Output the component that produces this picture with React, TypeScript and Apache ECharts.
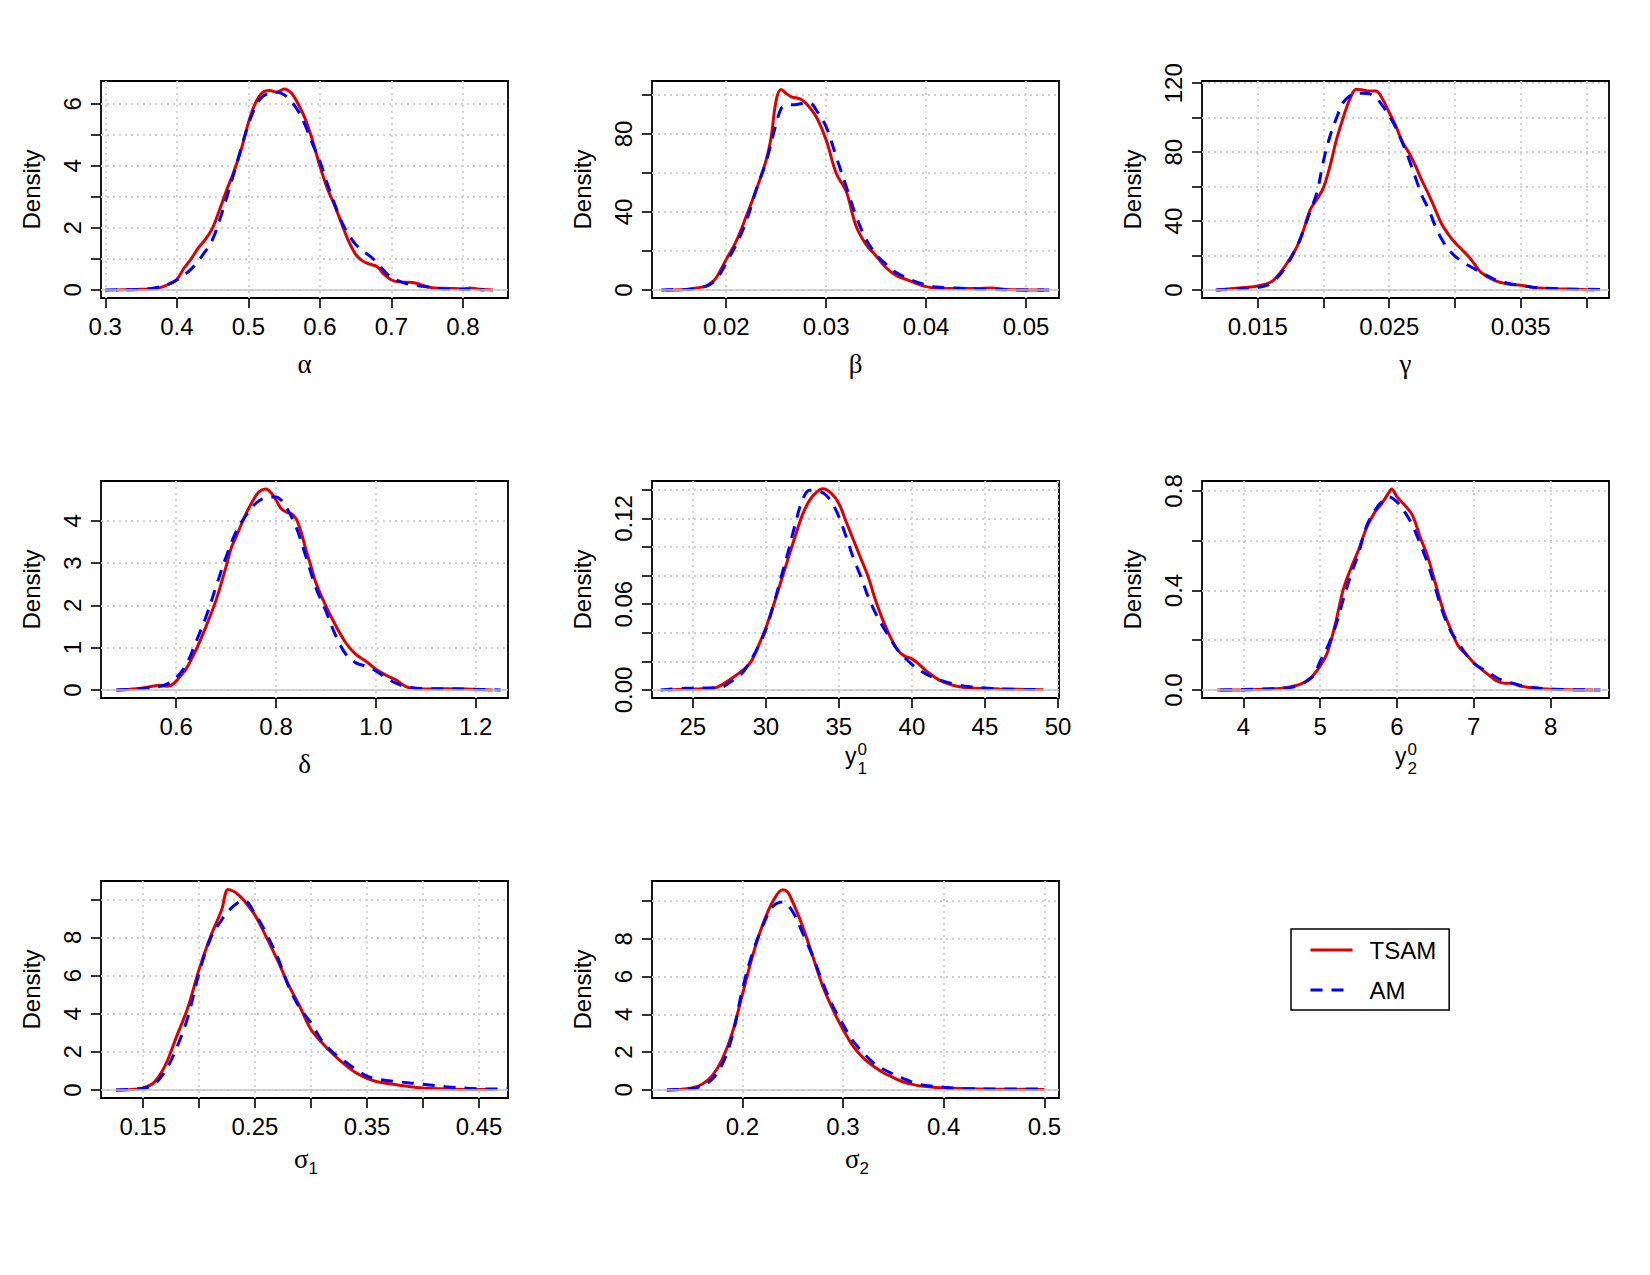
import React, { useEffect, useRef } from "react";
import * as echarts from "echarts";

// ---------- data ----------
const alphaTSAM = [[0.315,0],[0.35,0.02],[0.37,0.05],[0.38,0.1],[0.39,0.2],[0.40,0.34],[0.41,0.7],[0.42,1.0],[0.43,1.36],[0.44,1.63],[0.45,2.0],[0.46,2.6],[0.47,3.24],[0.48,3.83],[0.49,4.53],[0.50,5.39],[0.51,6.03],[0.52,6.37],[0.53,6.43],[0.54,6.38],[0.55,6.48],[0.56,6.35],[0.57,5.98],[0.58,5.49],[0.59,4.8],[0.60,4.0],[0.61,3.3],[0.62,2.76],[0.63,2.17],[0.64,1.58],[0.65,1.15],[0.66,0.93],[0.67,0.83],[0.68,0.75],[0.69,0.5],[0.70,0.32],[0.71,0.26],[0.73,0.24],[0.74,0.18],[0.75,0.11],[0.76,0.06],[0.78,0.05],[0.80,0.04],[0.81,0.06],[0.82,0.03],[0.842,0]];
const alphaAM = [[0.30,0],[0.35,0.02],[0.37,0.07],[0.39,0.2],[0.40,0.32],[0.42,0.67],[0.44,1.25],[0.45,1.63],[0.46,2.27],[0.47,3.0],[0.48,3.78],[0.49,4.58],[0.50,5.33],[0.51,5.92],[0.52,6.24],[0.53,6.35],[0.54,6.38],[0.55,6.3],[0.56,6.08],[0.57,5.76],[0.58,5.28],[0.59,4.69],[0.60,4.15],[0.61,3.45],[0.62,2.81],[0.63,2.22],[0.64,1.79],[0.65,1.47],[0.66,1.26],[0.67,1.09],[0.68,0.88],[0.69,0.61],[0.70,0.4],[0.71,0.29],[0.72,0.21],[0.74,0.13],[0.76,0.06],[0.78,0.02],[0.82,0.01],[0.83,0]];

const betaTSAM = [[0.014,0],[0.016,0.3],[0.017,1],[0.018,2],[0.0185,3.7],[0.019,6.3],[0.020,15.7],[0.021,25],[0.022,37.8],[0.023,51.4],[0.024,66.7],[0.0245,78.6],[0.025,97.4],[0.0255,102.8],[0.026,100.8],[0.0265,99.1],[0.027,98.6],[0.0275,97.7],[0.028,95.7],[0.029,88.9],[0.030,76.9],[0.031,59.9],[0.032,50.6],[0.033,32.7],[0.034,23.3],[0.035,17.4],[0.036,11.4],[0.037,7.5],[0.038,5.4],[0.039,3.4],[0.040,1.7],[0.041,0.9],[0.043,0.7],[0.045,0.7],[0.0465,1.0],[0.048,0.3],[0.050,0],[0.0518,0]];
const betaAM = [[0.0135,0],[0.016,0.3],[0.018,2],[0.019,5.4],[0.020,14],[0.021,23.3],[0.022,35.2],[0.023,51.4],[0.024,65.9],[0.025,85.4],[0.0255,93.1],[0.026,94.8],[0.027,95.1],[0.028,96],[0.0285,95.7],[0.029,92.3],[0.030,83.7],[0.031,68.4],[0.032,53.1],[0.033,37.8],[0.034,25.9],[0.035,18.2],[0.036,13.1],[0.037,8.9],[0.038,6.3],[0.039,4.1],[0.040,2.7],[0.041,1.5],[0.043,1.0],[0.045,0.5],[0.047,0.3],[0.049,0],[0.053,0]];

const gammaTSAM = [[0.0119,0],[0.014,1.4],[0.015,2.3],[0.016,4.6],[0.0165,8.1],[0.017,13],[0.0175,18.8],[0.018,25.5],[0.0185,35.2],[0.019,46.8],[0.0195,52.6],[0.020,59.4],[0.0205,72],[0.021,87.5],[0.0215,100],[0.022,110.7],[0.0225,116.5],[0.023,116.1],[0.0235,115.5],[0.024,115.5],[0.0245,110.7],[0.025,103],[0.0255,95.2],[0.026,85.9],[0.0265,79.7],[0.027,72],[0.0275,63.3],[0.028,55.5],[0.0285,46.8],[0.029,38.1],[0.0295,32.3],[0.030,27.5],[0.0305,23.6],[0.031,19.7],[0.0315,14.9],[0.032,10.1],[0.033,5.6],[0.034,3.5],[0.035,2.7],[0.036,1.4],[0.037,0.8],[0.038,0.6],[0.039,0.4],[0.0406,0]];
const gammaAM = [[0.0118,0],[0.014,0.8],[0.015,1.4],[0.016,3.9],[0.017,12],[0.018,25.5],[0.0185,35],[0.019,45.9],[0.0195,56.5],[0.020,74.9],[0.0205,89.4],[0.021,100],[0.0215,108.8],[0.022,112.6],[0.0225,114],[0.023,114.2],[0.0235,113.8],[0.024,111.7],[0.0245,106.8],[0.025,101],[0.0255,94.3],[0.026,85.5],[0.0265,75.9],[0.027,65.2],[0.0275,54.6],[0.028,46.8],[0.0285,37.2],[0.029,29.4],[0.0295,23.6],[0.030,19.7],[0.0305,16.8],[0.031,14.3],[0.032,10.1],[0.033,6.2],[0.034,3.9],[0.035,2.7],[0.036,1.5],[0.037,1.0],[0.038,0.6],[0.039,0.4],[0.0415,0.3]];

const deltaTSAM = [[0.48,0],[0.52,0.03],[0.55,0.08],[0.565,0.11],[0.58,0.09],[0.59,0.11],[0.60,0.21],[0.61,0.35],[0.62,0.5],[0.64,0.96],[0.66,1.51],[0.68,2.13],[0.70,2.92],[0.71,3.35],[0.72,3.62],[0.74,4.17],[0.76,4.6],[0.77,4.72],[0.78,4.75],[0.79,4.66],[0.80,4.49],[0.81,4.29],[0.82,4.21],[0.83,4.17],[0.84,4.05],[0.85,3.74],[0.86,3.31],[0.87,2.92],[0.88,2.53],[0.90,1.98],[0.92,1.51],[0.94,1.11],[0.96,0.84],[0.98,0.68],[1.00,0.49],[1.02,0.35],[1.04,0.24],[1.06,0.08],[1.08,0.03],[1.10,0.02],[1.14,0.03],[1.18,0.02],[1.234,0]];
const deltaAM = [[0.48,0],[0.55,0.05],[0.58,0.13],[0.60,0.29],[0.62,0.6],[0.64,1.15],[0.66,1.74],[0.68,2.45],[0.70,3.15],[0.72,3.74],[0.74,4.13],[0.76,4.42],[0.78,4.55],[0.80,4.56],[0.81,4.49],[0.82,4.33],[0.84,3.86],[0.86,3.15],[0.88,2.41],[0.90,1.86],[0.92,1.27],[0.94,0.84],[0.96,0.64],[0.98,0.56],[1.00,0.45],[1.02,0.29],[1.04,0.16],[1.06,0.08],[1.10,0.03],[1.14,0.03],[1.18,0.02],[1.25,0]];

const y1TSAM = [[23.3,0],[25,0.0007],[26,0.001],[26.7,0.002],[27.5,0.007],[28.5,0.0144],[29,0.02],[29.5,0.031],[30,0.0434],[30.5,0.0585],[31,0.0747],[31.5,0.091],[32,0.1072],[32.5,0.1223],[33,0.1328],[33.5,0.1386],[33.9,0.1407],[34.5,0.1374],[35,0.1305],[35.5,0.1177],[36,0.1049],[36.5,0.0922],[37,0.0794],[37.5,0.0631],[38,0.0492],[38.5,0.0376],[39,0.0283],[39.5,0.0237],[40,0.0218],[40.5,0.0179],[41,0.0132],[42,0.0063],[43,0.0028],[44,0.0014],[46,0.0007],[49,0.0002]];
const y1AM = [[22.8,0],[24.5,0.0012],[26,0.0014],[27,0.002],[27.5,0.005],[28,0.0086],[28.5,0.0132],[29,0.0214],[29.5,0.0306],[30,0.0422],[30.5,0.0585],[31,0.0771],[31.5,0.0956],[32,0.1154],[32.5,0.1328],[33,0.1397],[33.5,0.1393],[34,0.1374],[34.5,0.1316],[35,0.1212],[35.5,0.1072],[36,0.0922],[36.5,0.0794],[37,0.0655],[37.5,0.0539],[38,0.0446],[38.5,0.0364],[39,0.0283],[40,0.0179],[41,0.0109],[42,0.0067],[43,0.0039],[44,0.0023],[45,0.0014],[46,0.0007],[49,0.0002]];

const y2TSAM = [[3.66,0],[4.0,0],[4.3,0.003],[4.5,0.007],[4.7,0.019],[4.8,0.032],[4.9,0.056],[5.0,0.096],[5.1,0.156],[5.2,0.269],[5.3,0.403],[5.4,0.489],[5.5,0.563],[5.6,0.649],[5.7,0.709],[5.8,0.749],[5.9,0.796],[5.93,0.808],[6.0,0.776],[6.1,0.743],[6.2,0.703],[6.3,0.616],[6.4,0.536],[6.5,0.429],[6.6,0.323],[6.7,0.243],[6.8,0.176],[6.9,0.143],[7.0,0.109],[7.1,0.083],[7.2,0.059],[7.3,0.036],[7.4,0.027],[7.5,0.027],[7.6,0.016],[7.8,0.007],[8.0,0.003],[8.56,0]];
const y2AM = [[3.7,0],[4.5,0.007],[4.7,0.016],[4.9,0.053],[5.0,0.116],[5.1,0.176],[5.2,0.256],[5.3,0.363],[5.4,0.463],[5.5,0.549],[5.6,0.656],[5.7,0.716],[5.8,0.756],[5.9,0.776],[6.0,0.756],[6.1,0.716],[6.2,0.663],[6.3,0.589],[6.4,0.509],[6.5,0.409],[6.6,0.309],[6.7,0.236],[6.8,0.189],[6.9,0.143],[7.0,0.107],[7.2,0.069],[7.3,0.049],[7.4,0.036],[7.6,0.019],[7.8,0.009],[8.0,0.003],[8.65,0]];

const sigma1TSAM = [[0.126,0],[0.14,0.03],[0.15,0.1],[0.16,0.4],[0.17,1.3],[0.18,2.8],[0.19,4.3],[0.20,6.3],[0.21,8.0],[0.22,9.4],[0.226,10.52],[0.23,10.45],[0.235,10.25],[0.24,9.95],[0.25,9.17],[0.26,8.03],[0.27,6.82],[0.28,5.51],[0.29,4.38],[0.30,3.17],[0.31,2.47],[0.32,1.86],[0.33,1.34],[0.34,0.9],[0.35,0.61],[0.36,0.42],[0.37,0.33],[0.38,0.24],[0.39,0.16],[0.40,0.1],[0.42,0.05],[0.44,0.03],[0.462,0.02]];
const sigma1AM = [[0.126,0],[0.15,0.09],[0.16,0.3],[0.17,1.0],[0.18,2.2],[0.19,3.8],[0.20,6.1],[0.21,7.9],[0.22,8.9],[0.23,9.6],[0.24,9.95],[0.25,9.25],[0.26,8.21],[0.27,6.99],[0.28,5.43],[0.29,4.3],[0.30,3.51],[0.31,2.56],[0.32,1.95],[0.33,1.51],[0.34,1.08],[0.35,0.73],[0.36,0.56],[0.38,0.42],[0.40,0.3],[0.42,0.17],[0.44,0.09],[0.46,0.05],[0.476,0.07]];

const sigma2TSAM = [[0.125,0],[0.14,0.04],[0.15,0.1],[0.16,0.3],[0.17,0.74],[0.18,1.62],[0.19,3.02],[0.20,5.04],[0.21,7.07],[0.22,8.73],[0.23,9.96],[0.24,10.61],[0.245,10.49],[0.25,9.96],[0.26,8.65],[0.27,7.07],[0.28,5.48],[0.29,4.25],[0.30,3.2],[0.31,2.32],[0.32,1.7],[0.33,1.27],[0.34,0.91],[0.35,0.65],[0.36,0.42],[0.37,0.28],[0.38,0.19],[0.39,0.14],[0.40,0.1],[0.42,0.07],[0.45,0.04],[0.50,0.02]];
const sigma2AM = [[0.125,0],[0.15,0.07],[0.16,0.21],[0.17,0.56],[0.18,1.35],[0.19,2.85],[0.20,5.31],[0.21,7.24],[0.22,8.65],[0.23,9.7],[0.24,9.96],[0.25,9.44],[0.26,8.3],[0.27,7.07],[0.28,5.66],[0.29,4.43],[0.30,3.46],[0.31,2.58],[0.32,1.97],[0.33,1.44],[0.34,1.09],[0.35,0.83],[0.36,0.6],[0.37,0.39],[0.38,0.25],[0.40,0.14],[0.42,0.07],[0.45,0.05],[0.50,0.04]];

// tick positions and labelled ticks
const alphaXTicks = [0.3, 0.4, 0.5, 0.6, 0.7, 0.8];
const alphaXLabels = [0.3, 0.4, 0.5, 0.6, 0.7, 0.8];
const alphaYTicks = [0, 1, 2, 3, 4, 5, 6];
const alphaYLabels = [0, 2, 4, 6];
const betaXTicks = [0.02, 0.03, 0.04, 0.05];
const betaXLabels = [0.02, 0.03, 0.04, 0.05];
const betaYTicks = [0, 20, 40, 60, 80, 100];
const betaYLabels = [0, 40, 80];
const gammaXTicks = [0.015, 0.02, 0.025, 0.03, 0.035, 0.04];
const gammaXLabels = [0.015, 0.025, 0.035];
const gammaYTicks = [0, 20, 40, 60, 80, 100, 120];
const gammaYLabels = [0, 40, 80, 120];
const deltaXTicks = [0.6, 0.8, 1.0, 1.2];
const deltaXLabels = [0.6, 0.8, 1.0, 1.2];
const deltaYTicks = [0, 1, 2, 3, 4];
const deltaYLabels = [0, 1, 2, 3, 4];
const y1XTicks = [25, 30, 35, 40, 45, 50];
const y1XLabels = [25, 30, 35, 40, 45, 50];
const y1YTicks = [0, 0.02, 0.04, 0.06, 0.08, 0.1, 0.12, 0.14];
const y1YLabels = [0, 0.06, 0.12];
const y2XTicks = [4, 5, 6, 7, 8];
const y2XLabels = [4, 5, 6, 7, 8];
const y2YTicks = [0, 0.2, 0.4, 0.6, 0.8];
const y2YLabels = [0, 0.4, 0.8];
const sigma1XTicks = [0.15, 0.2, 0.25, 0.3, 0.35, 0.4, 0.45];
const sigma1XLabels = [0.15, 0.25, 0.35, 0.45];
const sigma1YTicks = [0, 2, 4, 6, 8, 10];
const sigma1YLabels = [0, 2, 4, 6, 8];
const sigma2XTicks = [0.2, 0.3, 0.4, 0.5];
const sigma2XLabels = [0.2, 0.3, 0.4, 0.5];
const sigma2YTicks = [0, 2, 4, 6, 8, 10];
const sigma2YLabels = [0, 2, 4, 6, 8];

const seriesNames = ["TSAM", "AM"];

// ---------- layout / style ----------
const COL_LEFT = [101, 652, 1202];
const ROW_TOP = [81, 481, 881];
const PW = 407;
const PH = 217;
const SANS = "'Liberation Sans', Arial, Helvetica, sans-serif";
const SERIF = "'Liberation Serif', 'Times New Roman', serif";
const RED = "#dd0000";
const BLUE = "#0000ff";

type Panel = {
  title: string[]; // [main, sup, sub]
  tsam: number[][];
  am: number[][];
  xMin: number; xMax: number; yMin: number; yMax: number;
  xTicks: number[]; xLabels: number[]; yTicks: number[]; yLabels: number[];
  xDec: number; yDec: number;
  row: number; col: number;
};

const panels: Panel[] = [
  { title: ["α"], tsam: alphaTSAM, am: alphaAM, xMin: 0.294, xMax: 0.863, yMin: -0.26, yMax: 6.74, xTicks: alphaXTicks, xLabels: alphaXLabels, yTicks: alphaYTicks, yLabels: alphaYLabels, xDec: 1, yDec: 0, row: 0, col: 0 },
  { title: ["β"], tsam: betaTSAM, am: betaAM, xMin: 0.01257, xMax: 0.0533, yMin: -4.12, yMax: 107.2, xTicks: betaXTicks, xLabels: betaXLabels, yTicks: betaYTicks, yLabels: betaYLabels, xDec: 2, yDec: 0, row: 0, col: 1 },
  { title: ["γ"], tsam: gammaTSAM, am: gammaAM, xMin: 0.01076, xMax: 0.04172, yMin: -4.67, yMax: 121.3, xTicks: gammaXTicks, xLabels: gammaXLabels, yTicks: gammaYTicks, yLabels: gammaYLabels, xDec: 3, yDec: 0, row: 0, col: 2 },
  { title: ["δ"], tsam: deltaTSAM, am: deltaAM, xMin: 0.4493, xMax: 1.2647, yMin: -0.19, yMax: 4.94, xTicks: deltaXTicks, xLabels: deltaXLabels, yTicks: deltaYTicks, yLabels: deltaYLabels, xDec: 1, yDec: 0, row: 1, col: 0 },
  { title: ["y", "0", "1"], tsam: y1TSAM, am: y1AM, xMin: 22.21, xMax: 50.07, yMin: -0.0056, yMax: 0.1462, xTicks: y1XTicks, xLabels: y1XLabels, yTicks: y1YTicks, yLabels: y1YLabels, xDec: 0, yDec: 2, row: 1, col: 1 },
  { title: ["y", "0", "2"], tsam: y2TSAM, am: y2AM, xMin: 3.461, xMax: 8.761, yMin: -0.0323, yMax: 0.84, xTicks: y2XTicks, xLabels: y2XLabels, yTicks: y2YTicks, yLabels: y2YLabels, xDec: 0, yDec: 1, row: 1, col: 2 },
  { title: ["σ", "", "1"], tsam: sigma1TSAM, am: sigma1AM, xMin: 0.1126, xMax: 0.4758, yMin: -0.42, yMax: 10.96, xTicks: sigma1XTicks, xLabels: sigma1XLabels, yTicks: sigma1YTicks, yLabels: sigma1YLabels, xDec: 2, yDec: 0, row: 2, col: 0 },
  { title: ["σ", "", "2"], tsam: sigma2TSAM, am: sigma2AM, xMin: 0.1103, xMax: 0.5145, yMin: -0.43, yMax: 11.07, xTicks: sigma2XTicks, xLabels: sigma2XLabels, yTicks: sigma2YTicks, yLabels: sigma2YLabels, xDec: 1, yDec: 0, row: 2, col: 1 },
];

function buildOption() {
  const grid: any[] = [];
  const xAxis: any[] = [];
  const yAxis: any[] = [];
  const series: any[] = [];
  const graphic: any[] = [];

  const splitStyle = { color: "#d0d0d0", type: [2, 4], width: 1.8 };

  panels.forEach((p, i) => {
    const left = COL_LEFT[p.col];
    const top = ROW_TOP[p.row];
    grid.push({
      left, top, width: PW, height: PH, show: true,
      borderColor: "#000", borderWidth: 1.8, backgroundColor: "transparent",
      containLabel: false,
    });
    xAxis.push({
      type: "value", gridIndex: i, min: p.xMin, max: p.xMax, position: "bottom",
      axisLine: { show: false, onZero: false },
      axisTick: { show: true, length: 10, inside: false, customValues: p.xTicks, lineStyle: { color: "#000", width: 1.6 } },
      axisLabel: { show: true, customValues: p.xLabels, margin: 16, fontSize: 24, fontFamily: SANS, color: "#000",
        formatter: (v: number) => v.toFixed(p.xDec) },
      splitLine: { show: true, lineStyle: splitStyle },
    });
    yAxis.push({
      type: "value", gridIndex: i, min: p.yMin, max: p.yMax, position: "left",
      name: "Density", nameLocation: "middle", nameGap: 58, nameRotate: 90,
      nameTextStyle: { fontSize: 24, fontFamily: SANS, color: "#000" },
      axisLine: { show: false, onZero: false },
      axisTick: { show: true, length: 10, inside: false, customValues: p.yTicks, lineStyle: { color: "#000", width: 1.6 } },
      axisLabel: { show: true, customValues: p.yLabels, margin: 17, rotate: 90, fontSize: 24, fontFamily: SANS, color: "#000",
        formatter: (v: number) => v.toFixed(p.yDec) },
      splitLine: { show: true, lineStyle: splitStyle },
    });
    series.push({
      name: seriesNames[0], type: "line", xAxisIndex: i, yAxisIndex: i, data: p.tsam,
      symbol: "none", showSymbol: false, smooth: 0.35, clip: true,
      lineStyle: { color: RED, width: 3 }, itemStyle: { color: RED },
      z: 3,
    });
    series.push({
      name: seriesNames[1], type: "line", xAxisIndex: i, yAxisIndex: i, data: p.am,
      symbol: "none", showSymbol: false, smooth: 0.35, clip: true,
      lineStyle: { color: BLUE, width: 3, type: [12, 9] }, itemStyle: { color: BLUE },
      z: 4,
      markLine: {
        silent: true, symbol: ["none", "none"], label: { show: false }, animation: false,
        lineStyle: { color: "#c4c4c4", type: "solid", width: 1.5 },
        data: [{ yAxis: 0 }],
      },
    });

    // axis title under each panel
    const cx = left + PW / 2;
    const bottom = top + PH;
    const [main, sup, sub] = p.title;
    if (main === "y") {
      graphic.push({ type: "text", x: cx + 1, y: bottom + 58, style: { text: main, font: `23px ${SANS}`, fill: "#000", align: "right", verticalAlign: "middle" } });
      graphic.push({ type: "text", x: cx + 2, y: bottom + 51, style: { text: sup, font: `17px ${SANS}`, fill: "#000", align: "left", verticalAlign: "middle" } });
      graphic.push({ type: "text", x: cx + 2, y: bottom + 70, style: { text: sub, font: `17px ${SANS}`, fill: "#000", align: "left", verticalAlign: "middle" } });
    } else if (sub) {
      graphic.push({ type: "text", x: cx + 4, y: bottom + 61, style: { text: main, font: `27px ${SERIF}`, fill: "#000", align: "right", verticalAlign: "middle" } });
      graphic.push({ type: "text", x: cx + 4, y: bottom + 70, style: { text: sub, font: `17px ${SANS}`, fill: "#000", align: "left", verticalAlign: "middle" } });
    } else {
      graphic.push({ type: "text", x: cx, y: bottom + 66, style: { text: main, font: `27px ${SERIF}`, fill: "#000", align: "center", verticalAlign: "middle" } });
    }
  });

  return {
    animation: false,
    backgroundColor: "#ffffff",
    textStyle: { fontFamily: SANS },
    grid, xAxis, yAxis, series, graphic,
    legend: {
      data: seriesNames,
      orient: "vertical", left: 1291, top: 929,
      padding: [9, 13, 8, 18],
      itemWidth: 42, itemHeight: 24, itemGap: 16,
      borderColor: "#000", borderWidth: 1.5,
      selectedMode: false,
      itemStyle: { opacity: 0 },
      lineStyle: { width: 3 },
      textStyle: { fontSize: 24, fontFamily: SANS, color: "#000", padding: [0, 0, 0, 12] },
    },
  };
}

export default function App() {
  const ref = useRef<HTMLDivElement>(null);
  useEffect(() => {
    if (!ref.current) return;
    const chart = echarts.init(ref.current, undefined, { renderer: "svg" });
    chart.setOption(buildOption() as any);
    return () => chart.dispose();
  }, []);
  return (
    <div
      ref={ref}
      style={{ position: "absolute", left: 0, top: 0, width: 1650, height: 1275, background: "#fff" }}
    />
  );
}
